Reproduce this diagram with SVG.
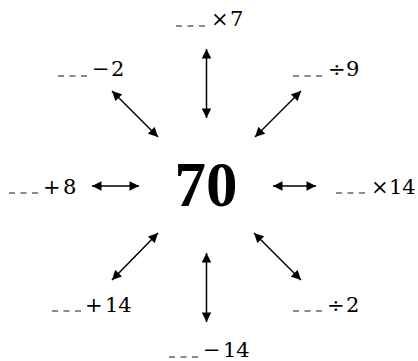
<svg xmlns="http://www.w3.org/2000/svg" width="418" height="361" viewBox="0 0 418 361">
<style>
.lbl{font-family:"DejaVu Serif","Liberation Serif",serif;font-size:21px;fill:#000}
.big{font-family:"Liberation Serif","DejaVu Serif",serif;font-size:63px;font-weight:bold;fill:#000}
.blank{stroke:#666;stroke-width:1.3;stroke-dasharray:6 5.5}
.arr{stroke:#000;stroke-width:1.5;fill:none;marker-start:url(#ah);marker-end:url(#ah)}
</style>
<defs>
<marker id="ah" viewBox="0 0 10 10" refX="10" refY="5" markerWidth="11" markerHeight="9.5" markerUnits="userSpaceOnUse" orient="auto-start-reverse">
<path d="M0,0 L10,5 L0,10 z" fill="#000"/>
</marker>
</defs>
<rect width="418" height="361" fill="#fff"/>
<g id="center"><text class="big" x="206" y="206" text-anchor="middle">70</text></g>
<g id="connectors">
<line class="arr" x1="206.5" y1="49" x2="206.5" y2="118"/>
<line class="arr" x1="206.5" y1="253" x2="206.5" y2="322"/>
<line class="arr" x1="112" y1="91" x2="158" y2="137"/>
<line class="arr" x1="301" y1="91" x2="255" y2="137"/>
<line class="arr" x1="158" y1="233" x2="112" y2="280"/>
<line class="arr" x1="254" y1="233" x2="301" y2="280"/>
<line class="arr" x1="92" y1="186" x2="139" y2="186"/>
<line class="arr" x1="273" y1="186" x2="316" y2="186"/>
</g>
<g id="n-top"><line class="blank" x1="176" y1="26" x2="205" y2="26"/><text class="lbl" y="26"><tspan x="211">×</tspan><tspan x="230">7</tspan></text></g>
<g id="n-ul"><line class="blank" x1="58" y1="76" x2="87" y2="76"/><text class="lbl" y="76"><tspan x="92">−</tspan><tspan x="111">2</tspan></text></g>
<g id="n-ur"><line class="blank" x1="293" y1="76" x2="322" y2="76"/><text class="lbl" y="76"><tspan x="328">÷</tspan><tspan x="346">9</tspan></text></g>
<g id="n-l"><line class="blank" x1="9" y1="193" x2="38" y2="193"/><text class="lbl" y="194"><tspan x="43">+</tspan><tspan x="63">8</tspan></text></g>
<g id="n-r"><line class="blank" x1="336" y1="193" x2="365" y2="193"/><text class="lbl" y="194"><tspan x="371">×</tspan><tspan x="389">14</tspan></text></g>
<g id="n-ll"><line class="blank" x1="52" y1="311" x2="81" y2="311"/><text class="lbl" y="312"><tspan x="85">+</tspan><tspan x="105">14</tspan></text></g>
<g id="n-lr"><line class="blank" x1="293" y1="311" x2="322" y2="311"/><text class="lbl" y="312"><tspan x="327">÷</tspan><tspan x="346">2</tspan></text></g>
<g id="n-b"><line class="blank" x1="169" y1="357" x2="198" y2="357"/><text class="lbl" y="357"><tspan x="203">−</tspan><tspan x="223">14</tspan></text></g>
</svg>
